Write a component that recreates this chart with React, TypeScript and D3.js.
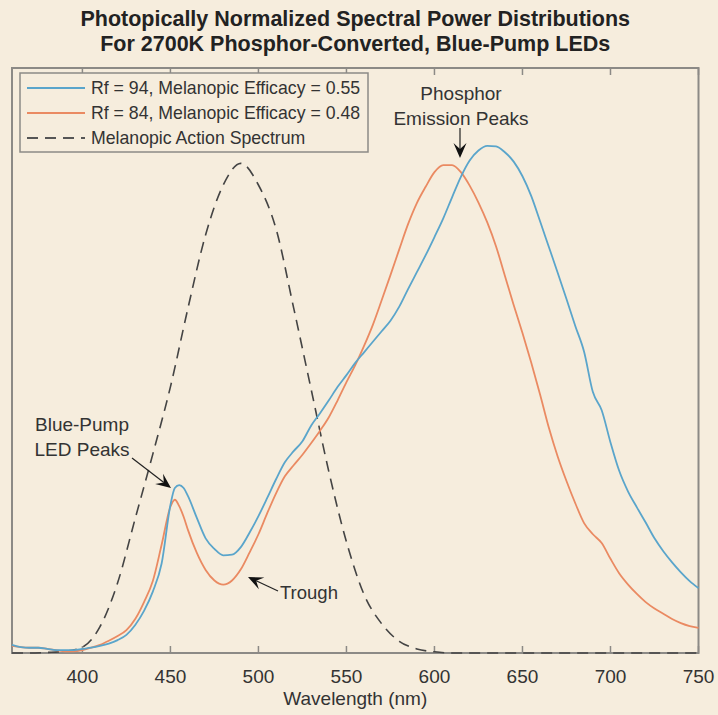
import React from 'react'
import * as d3 from 'd3'

// wavelength grid (nm) for the two LED spectra
const wavelengths = [
  360, 365, 370, 375, 380, 385, 390, 395, 400, 405, 410, 415, 420, 425, 430, 435, 440, 445, 450, 452.5,
  455, 457.5, 460, 465, 470, 475, 480, 485, 490, 495, 500, 505, 510, 515, 520, 525, 530, 535, 540, 545,
  550, 555, 560, 565, 570, 575, 580, 585, 590, 595, 600, 605, 610, 615, 620, 625, 630, 635, 640, 645,
  650, 655, 660, 665, 670, 675, 680, 685, 690, 695, 700, 705, 710, 715, 720, 725, 730, 735, 740, 745, 750,
]

// Rf = 94 (blue)
const rf94 = [
  0.014, 0.01, 0.009, 0.009, 0.007, 0.005, 0.005, 0.005, 0.007, 0.009, 0.012, 0.016, 0.022, 0.031, 0.048, 0.072, 0.105, 0.153, 0.253, 0.282,
  0.287, 0.282, 0.268, 0.231, 0.196, 0.178, 0.167, 0.168, 0.181, 0.206, 0.234, 0.265, 0.297, 0.326, 0.345, 0.362, 0.389, 0.41, 0.432, 0.455,
  0.475, 0.496, 0.514, 0.532, 0.55, 0.568, 0.592, 0.622, 0.651, 0.68, 0.711, 0.743, 0.779, 0.814, 0.842, 0.859, 0.867, 0.866, 0.856, 0.84,
  0.815, 0.781, 0.738, 0.694, 0.65, 0.605, 0.559, 0.515, 0.446, 0.415, 0.36, 0.311, 0.276, 0.249, 0.223, 0.196, 0.174, 0.155, 0.138, 0.123, 0.111,
]

// Rf = 84 (orange)
const rf84 = [
  0.012, 0.01, 0.009, 0.009, 0.007, 0.005, 0.003, 0.003, 0.005, 0.009, 0.014, 0.021, 0.029, 0.039, 0.058, 0.087, 0.123, 0.185, 0.25, 0.262,
  0.251, 0.233, 0.21, 0.171, 0.142, 0.124, 0.117, 0.124, 0.143, 0.172, 0.203, 0.239, 0.273, 0.302, 0.321, 0.339, 0.359, 0.38, 0.403, 0.432,
  0.463, 0.492, 0.525, 0.561, 0.603, 0.646, 0.69, 0.733, 0.769, 0.797, 0.822, 0.834, 0.834, 0.822, 0.799, 0.77, 0.736, 0.695, 0.645, 0.595,
  0.547, 0.496, 0.442, 0.385, 0.336, 0.294, 0.256, 0.222, 0.203, 0.188, 0.161, 0.136, 0.117, 0.101, 0.087, 0.076, 0.067, 0.058, 0.051, 0.046, 0.043,
]

// melanopic action spectrum (dashed)
const melWavelengths = [
  360, 370, 380, 390, 400, 410, 420, 430, 440, 450, 460, 470, 480, 490, 500, 510, 520, 530, 540, 550,
  560, 570, 580, 590, 600, 610, 620, 650, 700, 750,
]
const melanopic = [
  0, 0, 0.001, 0.003, 0.01, 0.045, 0.12, 0.23, 0.34, 0.455, 0.59, 0.715, 0.8, 0.837, 0.8, 0.725, 0.59, 0.45, 0.31, 0.19,
  0.1, 0.05, 0.02, 0.007, 0.002, 0, 0, 0, 0, 0,
]

const xTicks = [400, 450, 500, 550, 600, 650, 700, 750]
const titleLines = [
  'Photopically Normalized Spectral Power Distributions',
  'For 2700K Phosphor-Converted, Blue-Pump LEDs',
]
const legendLabels = [
  'Rf = 94, Melanopic Efficacy = 0.55',
  'Rf = 84, Melanopic Efficacy = 0.48',
  'Melanopic Action Spectrum',
]

const W = 718
const H = 715
const bg = '#f6eddd'
const blue = '#5aa5cb'
const orange = '#ea8a62'
const axisGrey = '#8c8a86'
const textCol = '#333333'
const font = 'Liberation Sans, Arial, Helvetica, sans-serif'

const Arrow = ({ x1, y1, x2, y2 }: { x1: number; y1: number; x2: number; y2: number }) => {
  const a = Math.atan2(y2 - y1, x2 - x1)
  const len = 15
  const half = 6.5
  const notch = 9
  const p = (d: number, s: number) => [
    x2 - d * Math.cos(a) - s * Math.sin(a),
    y2 - d * Math.sin(a) + s * Math.cos(a),
  ]
  const pts = [[x2, y2], p(len, half), p(notch, 0), p(len, -half)]
  const shaftEnd = p(notch, 0)
  return (
    <g>
      <line x1={x1} y1={y1} x2={shaftEnd[0]} y2={shaftEnd[1]} stroke="#222" strokeWidth={1.2} />
      <polygon points={pts.map((q) => q.join(',')).join(' ')} fill="#111" />
    </g>
  )
}

export default function App() {
  const x = d3.scaleLinear().domain([360, 750]).range([12, 698.5])
  const y = d3.scaleLinear().domain([0, 1]).range([653, 68])

  const line = d3
    .line<number>()
    .x((_, i) => x(wavelengths[i]))
    .y((d) => y(d))
    .curve(d3.curveMonotoneX)

  const melLine = d3
    .line<number>()
    .x((_, i) => x(melWavelengths[i]))
    .y((d) => y(d))
    .curve(d3.curveMonotoneX)

  const [x0, x1] = x.range()
  const [yb, yt] = y.range()

  return (
    <svg
      width={W}
      height={H}
      style={{ position: 'absolute', left: 0, top: 0, display: 'block' }}
      fontFamily={font}
    >
      <rect width={W} height={H} fill={bg} />

      {titleLines.map((t, i) => (
        <text key={t} x={(x0 + x1) / 2} y={26 + i * 25} textAnchor="middle" fontSize={21.5} fontWeight="bold" fill="#222">
          {t}
        </text>
      ))}

      {/* axes box */}
      <rect x={x0} y={yt} width={x1 - x0} height={yb - yt} fill="none" stroke={axisGrey} strokeWidth={2} />
      {xTicks.map((t) => (
        <g key={t}>
          <line x1={x(t)} x2={x(t)} y1={yb} y2={yb - 7} stroke={axisGrey} strokeWidth={1.5} />
          <line x1={x(t)} x2={x(t)} y1={yt} y2={yt + 7} stroke={axisGrey} strokeWidth={1.5} />
          <text x={x(t)} y={676} dy="0.35em" textAnchor="middle" fontSize={19} fill={textCol}>
            {t}
          </text>
        </g>
      ))}
      <text x={(x0 + x1) / 2} y={698} dy="0.35em" textAnchor="middle" fontSize={19} fill={textCol}>
        Wavelength (nm)
      </text>

      <path d={melLine(melanopic) ?? ''} fill="none" stroke="#444" strokeWidth={1.6} strokeDasharray="11,7" />
      <path d={line(rf84) ?? ''} fill="none" stroke={orange} strokeWidth={1.8} />
      <path d={line(rf94) ?? ''} fill="none" stroke={blue} strokeWidth={1.8} />

      {/* legend */}
      <rect x={20} y={73} width={348} height={79} fill={bg} stroke={axisGrey} strokeWidth={1.5} />
      {legendLabels.map((l, i) => (
        <g key={l}>
          <line
            x1={27}
            x2={85}
            y1={88 + i * 25}
            y2={88 + i * 25}
            stroke={i === 0 ? blue : i === 1 ? orange : '#555'}
            strokeWidth={1.8}
            strokeDasharray={i === 2 ? '11,7' : undefined}
          />
          <text x={91} y={88 + i * 25} dy="0.35em" fontSize={17.7} fill={textCol}>
            {l}
          </text>
        </g>
      ))}

      {/* annotations */}
      <text x={461} y={93} dy="0.35em" textAnchor="middle" fontSize={19} fill={textCol}>
        Phosphor
      </text>
      <text x={461} y={118} dy="0.35em" textAnchor="middle" fontSize={19} fill={textCol}>
        Emission Peaks
      </text>
      <Arrow x1={460} y1={128} x2={460} y2={158} />

      <text x={82} y={424} dy="0.35em" textAnchor="middle" fontSize={19} fill={textCol}>
        Blue-Pump
      </text>
      <text x={82} y={449} dy="0.35em" textAnchor="middle" fontSize={19} fill={textCol}>
        LED Peaks
      </text>
      <Arrow x1={132} y1={458} x2={171} y2={488} />

      <text x={280} y={593} dy="0.35em" fontSize={18.5} fill={textCol}>
        Trough
      </text>
      <Arrow x1={278} y1={591} x2={248} y2={577} />
    </svg>
  )
}
